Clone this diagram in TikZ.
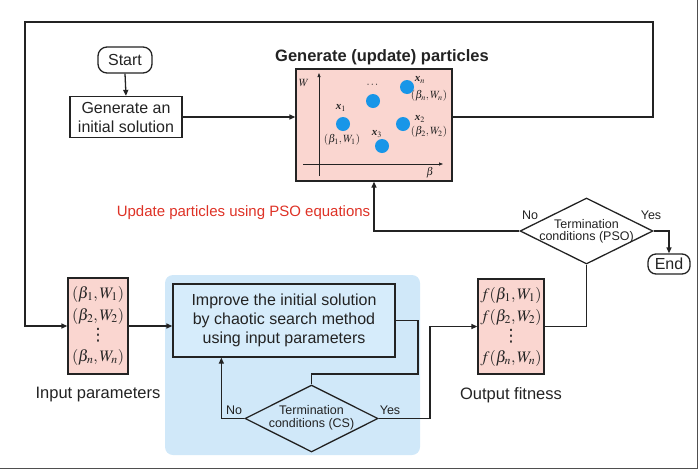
\documentclass[tikz,border=0pt]{standalone}
\usepackage{amsmath}
\usepackage{mathptmx}
\usepackage{fontspec}
\setmainfont{Liberation Sans}
\newfontfamily\serifbi{Liberation Serif}
\newfontfamily\djv{DejaVu Sans}
\newcommand{\bxx}{\text{\serifbi\bfseries\itshape x}}
\newcommand{\vdts}{{\djv\fontsize{17}{17}\selectfont ⋮}}
\usetikzlibrary{arrows.meta,shapes.geometric,calc}
\definecolor{pinkf}{RGB}{250,214,208}
\definecolor{bluebg}{RGB}{208,232,249}
\definecolor{bluebox}{RGB}{214,236,251}
\definecolor{dotb}{RGB}{24,150,232}
\definecolor{redt}{RGB}{222,50,38}
\definecolor{ink}{RGB}{35,35,35}
\begin{document}
\begin{tikzpicture}[x=1pt,y=-1pt,line width=1.3pt,color=ink,
  arr/.style={-{Triangle[length=6pt,width=5pt]}},
  sarr/.style={line width=0.7pt,-{Triangle[length=4pt,width=3pt]}},
  box/.style={draw=ink,rectangle,inner sep=0pt,align=center,font=\fontsize{16}{19}\selectfont},
  term/.style={box,rounded corners=9pt},
  pinkbox/.style={box,fill=pinkf,font=\fontsize{16}{22}\selectfont},
  dia/.style={draw=ink,diamond,inner sep=0pt,minimum width=133pt,minimum height=66pt},
  diatext/.style={align=center,inner sep=0pt,font=\fontsize{12.5}{12.5}\selectfont},
  lbl/.style={inner sep=0pt,font=\fontsize{12.5}{12.5}\selectfont},
  capt/.style={inner sep=0pt,font=\fontsize{16.5}{19}\selectfont},
  ptl/.style={inner sep=0pt,font=\fontsize{11}{11}\selectfont},
  dotst/.style={fill=dotb}
]
\useasboundingbox (0,0) rectangle (700,469);
% image edge lines
\draw[line width=0.8pt,color=ink!80] (697.5,0) -- (697.5,468.5) -- (0,468.5);

% blue background
\fill[bluebg,rounded corners=8pt] (165,275) rectangle (420,455);

% nodes
\node[term,minimum width=54pt,minimum height=26pt] (start) at (125,60) {Start};
\node[box,minimum width=112pt,minimum height=41pt] (init) at (126,117) {Generate an\\initial solution};
\node[box,fill=pinkf,minimum width=156pt,minimum height=112pt] (pso) at (374,125) {};
\node[inner sep=0pt,font=\fontsize{16.5}{18}\selectfont\bfseries] (title) at (382,57) {Generate (update) particles};
\node[inner sep=0pt,text=redt,font=\fontsize{15}{16}\selectfont] (upd) at (243.5,213) {Update particles using PSO equations};
\node[dia] (dpso) at (586.5,231) {};
\node[diatext] (dpsot) at (586.5,231.5) {Termination\\conditions (PSO)};
\node[term,minimum width=42pt,minimum height=20pt,rounded corners=8pt] (end) at (669,264) {End};

\node[pinkbox,minimum width=60pt,minimum height=96pt] (inp) at (98,326)
  {$(\beta_1,W_1)$\\$(\beta_2,W_2)$\\[-2pt]\vdts\\[-1pt]$(\beta_n,W_n)$};
\node[capt] (inpl) at (98,395) {Input parameters};
\node[box,fill=bluebox,minimum width=222pt,minimum height=73pt] (imp) at (284,320.5)
  {Improve the initial solution\\by chaotic search method\\using input parameters};
\node[dia,minimum height=67pt] (dcs) at (311.5,418.5) {};
\node[diatext] (dcst) at (311.5,418) {Termination\\conditions (CS)};
\node[pinkbox,minimum width=66pt,minimum height=95pt] (out) at (511,326.5)
  {$f(\beta_1,W_1)$\\$f(\beta_2,W_2)$\\[-2pt]\vdts\\[-1pt]$f(\beta_n,W_n)$};
\node[capt] (outl) at (511,395) {Output fitness};

% particle box content
\draw[sarr] (319,176) -- (319,73);
\draw[sarr] (303,164) -- (443,164);
\node[ptl] (wl) at (304,83) {$W$};
\node[ptl] (bl) at (430,173) {$\beta$};
\fill[dotst] (343,124) circle (7pt);
\fill[dotst] (373,101) circle (7pt);
\fill[dotst] (407,87) circle (7pt);
\fill[dotst] (403,124) circle (7pt);
\fill[dotst] (382,146) circle (7pt);
\node[ptl] (x1) at (341,108) {$\bxx_1$};
\node[ptl] (p1) at (342,140) {$(\beta_1,W_1)$};
\node[ptl] (pd) at (373,85) {$\cdots$};
\node[ptl] (xn) at (420,80) {$\bxx_n$};
\node[ptl] (pn) at (429,96) {$(\beta_n,W_n)$};
\node[ptl] (x2) at (420,119) {$\bxx_2$};
\node[ptl] (p2) at (429,132) {$(\beta_2,W_2)$};
\node[ptl] (x3) at (377,134) {$\bxx_3$};

% connectors
\coordinate (tr) at (653,22);
\coordinate (tl) at (25,22);
\draw[arr] (start.south) -- (init.north);
\draw[arr] (init.east) -- (init.east -| pso.west);
\draw[arr] (init.east -| pso.east) -| (tr) -- (tl) |- (inp.west);
\draw[arr] (dpso.west) -| (pso.south);
\draw[arr] (dpso.east) -| (end.north);
\draw (dpso.south) |- (out.east);
\draw[arr] (inp.east) -- (inp.east -| imp.west);
\coordinate (cj) at (418,374);
\draw (imp.east) -| (cj) -| (dcs.north);
\draw[arr] (dcs.west) -| ([xshift=49pt]imp.south west);
\coordinate (yj) at (430,418.5);
\draw[arr] (dcs.east) -- (yj) |- (out.west);

% branch labels
\node[lbl] (no1) at (530,215) {No};
\node[lbl] (yes1) at (651,215) {Yes};
\node[lbl] (no2) at (234,410) {No};
\node[lbl] (yes2) at (390,410) {Yes};
\end{tikzpicture}
\end{document}
